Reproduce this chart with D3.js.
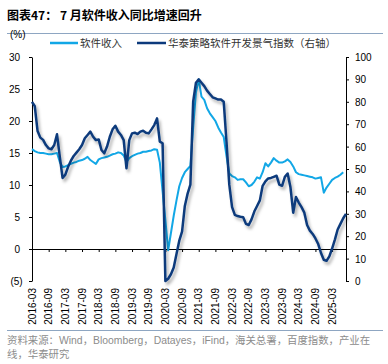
<!DOCTYPE html>
<html>
<head>
<meta charset="utf-8">
<script src="https://cdn.jsdelivr.net/npm/d3@7"></script>
<style>
  body { margin: 0; background: #fff; }
  svg { display: block; }
</style>
</head>
<body>
<div id="chart"></div>
<script>
// 软件收入 (%, left axis) and 华泰策略软件开发景气指数 (right axis), monthly from 2016-03
const months = d3.timeMonth.range(new Date(2016, 2, 1), new Date(2025, 8, 1)).map(d3.timeFormat("%Y-%m"));

const xTickLabels = ["2016-03", "2016-09", "2017-03", "2017-09", "2018-03", "2018-09", "2019-03", "2019-09",
    "2020-03", "2020-09", "2021-03", "2021-09", "2022-03", "2022-09", "2023-03", "2023-09",
    "2024-03", "2024-09", "2025-03"];
const leftTicks = [-5, 0, 5, 10, 15, 20, 25, 30];
const rightTicks = [0, 10, 20, 30, 40, 50, 60, 70, 80, 90, 100];

const softwareRevenue = [
    15.6, 15.3, 15.1, 15.0, 15.0, 14.9, 14.8, 14.8, 14.9, 15.0,
    13.6, 12.8, 12.9, 13.1, 13.3, 13.5, 13.6, 13.8, 13.9, 14.1,
    14.4, 13.9, 13.6, 13.3, 14.0, 14.2, 14.3, 14.4, 14.6, 14.8,
    14.9, 15.1, 15.0, 14.6, 13.6, 14.2, 14.5, 14.7, 14.9, 15.0,
    15.2, 15.2, 15.3, 15.4, 15.6, 15.5, 13.5, 9.0, 4.5, -0.2,
    2.5, 5.2, 7.6, 9.8, 11.1, 12.0, 12.5, 13.0, 19.0, 24.5,
    26.5, 23.8, 23.3, 22.0, 21.2, 20.6, 20.0, 19.0, 18.2, 17.5,
    14.5, 11.8, 11.4, 11.2, 10.8, 10.9, 10.9, 10.4, 9.8, 10.0,
    10.5, 11.2, 11.0, 12.0, 13.4, 12.9, 13.5, 14.2, 13.8, 13.5,
    13.5, 13.7, 14.0, 13.6, 12.9, 12.0, 11.7, 11.6, 11.5, 11.4,
    11.3, 11.2, 11.0, 11.1, 11.2, 8.8, 9.6, 10.2, 10.8, 11.1,
    11.3, 11.6, 12.0
];

const devIndex = [
    80, 78, 67, 64, 63, 60.7, 59.2, 58.8, 60.7, 65.5,
    55.5, 46, 47.5, 51, 53.7, 55.8, 57.3, 58.8, 60.7, 63.7,
    65.2, 66.7, 64.4, 62.9, 63.2, 58.5, 57, 60, 64.4, 67.7,
    69.3, 66.7, 65.2, 62.9, 50.3, 62.9, 65.9, 66.2, 65.6, 66.7,
    67.1, 66.2, 65.9, 67.7, 69.6, 72.6, 62.2, 61.5, 0, 1,
    3, 6, 12, 18, 22, 33.5, 39, 43, 80, 88.5,
    90, 88.5, 87, 85, 83.5, 82, 81.5, 81, 81, 80,
    62, 43, 33, 29.5, 29, 28.7, 28.5, 25.5, 25, 27.5,
    31, 33.5, 36, 42.5, 44.5, 45.8, 46, 46.5, 47, 43,
    42.5, 46.5, 48, 42, 30.5, 37.5, 35, 33, 30.5, 25,
    22.5, 21, 19, 16.5, 12.5, 9.5, 9, 11, 14.5, 18.5,
    23, 25.5, 28, 30
];

const width = 388, height = 364;
const lightBlue = "#12a7e6";
const navy = "#0c3a7c";
const ruleColor = "#8ea6c2";
const numFont = "'Liberation Sans', Arial, sans-serif";
const cjkFont = "'Liberation Sans', 'Noto Sans CJK SC', sans-serif";

const svg = d3.select("#chart").append("svg")
    .attr("width", width)
    .attr("height", height);

svg.append("rect").attr("width", width).attr("height", height).attr("fill", "#fff");

const defs = svg.append("defs");
defs.append("filter")
    .attr("id", "shadow")
    .attr("x", "-10%").attr("y", "-10%")
    .attr("width", "130%").attr("height", "130%")
    .append("feDropShadow")
    .attr("dx", 2).attr("dy", 3)
    .attr("stdDeviation", 1.5)
    .attr("flood-color", "#000")
    .attr("flood-opacity", 0.3);

// -- Title --
svg.append("text")
    .attr("x", 7).attr("y", 19.5)
    .attr("font-family", "'Noto Sans CJK SC', sans-serif")
    .attr("font-size", 12)
    .attr("font-weight", "bold")
    .attr("fill", "#000")
    .text("图表47： 7 月软件收入同比增速回升");

svg.append("line")
    .attr("x1", 7).attr("x2", 383)
    .attr("y1", 33.5).attr("y2", 33.5)
    .attr("stroke", ruleColor).attr("stroke-width", 1);

// -- Scales --
const x = d3.scalePoint().domain(months).range([32, 346]);
const yL = d3.scaleLinear().domain([-5, 30]).range([281, 57]);
const yR = d3.scaleLinear().domain([0, 100]).range([281, 57]);

// -- Axes --
const leftAxis = svg.append("g")
    .attr("transform", "translate(32,0)")
    .call(d3.axisLeft(yL).tickValues(leftTicks).tickSize(3).tickSizeOuter(0)
        .tickFormat(d => d < 0 ? `(${-d})` : d));
leftAxis.selectAll("text")
    .attr("x", d => d < 0 ? -9.3 : -12)
    .attr("dy", "0.34em");

const rightAxis = svg.append("g")
    .attr("transform", "translate(346,0)")
    .call(d3.axisRight(yR).tickValues(rightTicks).tickSize(3).tickSizeOuter(0));
rightAxis.selectAll("text")
    .attr("x", 9)
    .attr("dy", "0.34em");

const xAxis = svg.append("g")
    .attr("transform", `translate(0,${yL(0)})`)
    .call(d3.axisBottom(x).tickValues(xTickLabels).tickSize(3).tickSizeOuter(0).tickFormat(""));

[leftAxis, rightAxis, xAxis].forEach(a => {
    a.selectAll("path, line").attr("stroke", "#000").attr("stroke-width", 1);
    a.selectAll("text")
        .attr("font-family", numFont)
        .attr("font-size", 10)
        .attr("fill", "#000");
});

svg.append("g")
    .selectAll("text")
    .data(xTickLabels)
    .join("text")
    .attr("transform", d => `translate(${x(d)},288) rotate(-90)`)
    .attr("text-anchor", "end")
    .attr("dy", "0.35em")
    .attr("font-family", numFont)
    .attr("font-size", 10)
    .attr("fill", "#000")
    .text(d => d);

svg.append("text")
    .attr("x", 10).attr("y", 37.5)
    .attr("font-family", numFont)
    .attr("font-size", 10)
    .attr("fill", "#000")
    .text("(%)");

// -- Lines --
const lightLine = d3.line()
    .x((d, i) => x(months[i]))
    .y(d => yL(d));

const navyLine = d3.line()
    .x((d, i) => x(months[i]))
    .y(d => yR(d));

svg.append("path")
    .datum(softwareRevenue)
    .attr("fill", "none")
    .attr("stroke", lightBlue)
    .attr("stroke-width", 2)
    .attr("stroke-linejoin", "round")
    .attr("d", lightLine);

svg.append("path")
    .datum(devIndex)
    .attr("fill", "none")
    .attr("stroke", navy)
    .attr("stroke-width", 2.5)
    .attr("stroke-linejoin", "round")
    .attr("filter", "url(#shadow)")
    .attr("d", navyLine);

// -- Legend --
const legendItems = [
    { name: "软件收入", color: lightBlue, x0: 50, x1: 78 },
    { name: "华泰策略软件开发景气指数（右轴）", color: navy, x0: 137, x1: 166 }
];
const legend = svg.append("g");
legendItems.forEach(item => {
    legend.append("line")
        .attr("x1", item.x0).attr("x2", item.x1)
        .attr("y1", 43).attr("y2", 43)
        .attr("stroke", item.color)
        .attr("stroke-width", 2.5);
    legend.append("text")
        .attr("x", item.x1 + 2).attr("y", 46.8)
        .attr("font-family", cjkFont)
        .attr("font-size", 10.5)
        .attr("fill", "#333")
        .text(item.name);
});

// -- Source --
svg.append("line")
    .attr("x1", 7).attr("x2", 383)
    .attr("y1", 330.5).attr("y2", 330.5)
    .attr("stroke", ruleColor).attr("stroke-width", 1);

const sourceLines = ["资料来源：Wind，Bloomberg，Datayes，iFind，海关总署，百度指数，产业在", "线，华泰研究"];
svg.append("g")
    .selectAll("text")
    .data(sourceLines)
    .join("text")
    .attr("x", 7)
    .attr("y", (d, i) => 344 + i * 13.5)
    .attr("font-family", cjkFont)
    .attr("font-size", 10.4)
    .attr("fill", "#8c8c8c")
    .text(d => d);
</script>
</body>
</html>
